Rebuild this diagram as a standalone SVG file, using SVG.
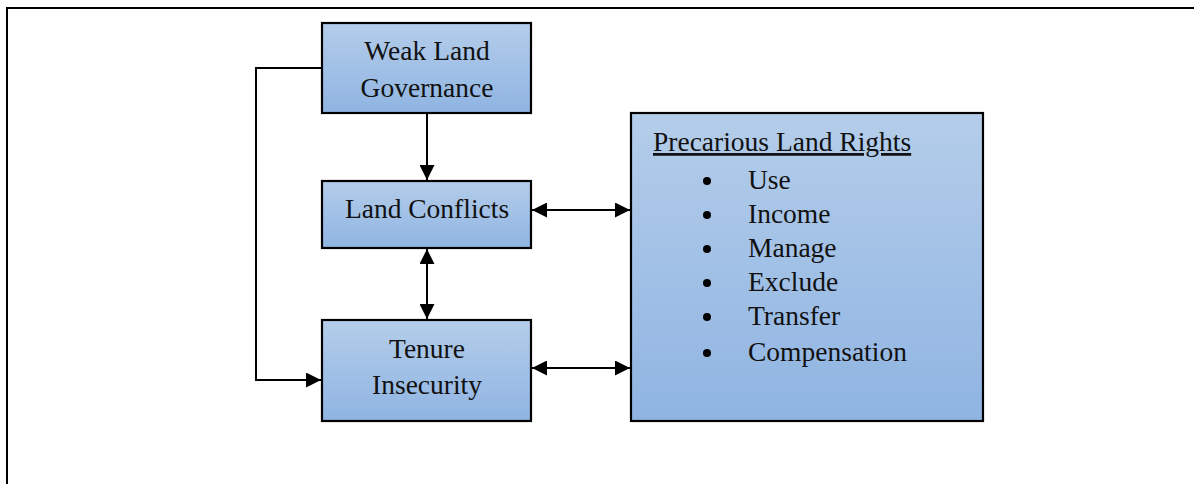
<svg xmlns="http://www.w3.org/2000/svg" width="1194" height="484" viewBox="0 0 1194 484">
<style>
.box{stroke:#000;stroke-width:2.2;fill:url(#g)}
.t{font-family:"Liberation Serif","Times New Roman",serif;font-size:27.5px;fill:#111}
.c{text-anchor:middle}
.ln{stroke:#000;stroke-width:2;fill:none}
.b{fill:#000}
</style>
<defs>
<linearGradient id="g" x1="0" y1="0" x2="0" y2="1">
<stop offset="0" stop-color="#b4cdea"/>
<stop offset="1" stop-color="#8fb4e2"/>
</linearGradient>
<marker id="a" viewBox="0 0 10 10" refX="10" refY="5" markerWidth="15" markerHeight="15" markerUnits="userSpaceOnUse" orient="auto-start-reverse">
<path d="M0,0 L10,5 L0,10 z" fill="#000"/>
</marker>
</defs>
<rect width="1194" height="484" fill="#fff"/>
<rect x="7" y="8" width="1200" height="490" fill="none" stroke="#000" stroke-width="2"/>
<g id="connectors">
<line class="ln" x1="427" y1="113" x2="427" y2="180" marker-end="url(#a)"/>
<line class="ln" x1="427" y1="249" x2="427" y2="319" marker-start="url(#a)" marker-end="url(#a)"/>
<line class="ln" x1="532" y1="210" x2="630" y2="210" marker-start="url(#a)" marker-end="url(#a)"/>
<line class="ln" x1="532" y1="368" x2="630" y2="368" marker-start="url(#a)" marker-end="url(#a)"/>
<polyline class="ln" points="322,68 256,68 256,380 321,380" marker-end="url(#a)"/>
</g>
<g id="weak">
<rect class="box" x="322" y="23" width="209" height="90"/>
<text class="t c" x="427" y="60">Weak Land</text>
<text class="t c" x="427" y="97">Governance</text>
</g>
<g id="conflicts">
<rect class="box" x="322" y="181" width="209" height="67"/>
<text class="t c" x="427" y="218">Land Conflicts</text>
</g>
<g id="tenure">
<rect class="box" x="322" y="320" width="209" height="101"/>
<text class="t c" x="427" y="358">Tenure</text>
<text class="t c" x="427" y="394">Insecurity</text>
</g>
<g id="precarious">
<rect class="box" x="631" y="113" width="352" height="308"/>
<text class="t" x="653" y="151" text-decoration="underline">Precarious Land Rights</text>
<circle class="b" cx="707" cy="181" r="4"/><text class="t" x="748" y="189">Use</text>
<circle class="b" cx="707" cy="215" r="4"/><text class="t" x="748" y="223">Income</text>
<circle class="b" cx="707" cy="249" r="4"/><text class="t" x="748" y="257">Manage</text>
<circle class="b" cx="707" cy="283" r="4"/><text class="t" x="748" y="291">Exclude</text>
<circle class="b" cx="707" cy="317" r="4"/><text class="t" x="748" y="325">Transfer</text>
<circle class="b" cx="707" cy="353" r="4"/><text class="t" x="748" y="361">Compensation</text>
</g>
</svg>
